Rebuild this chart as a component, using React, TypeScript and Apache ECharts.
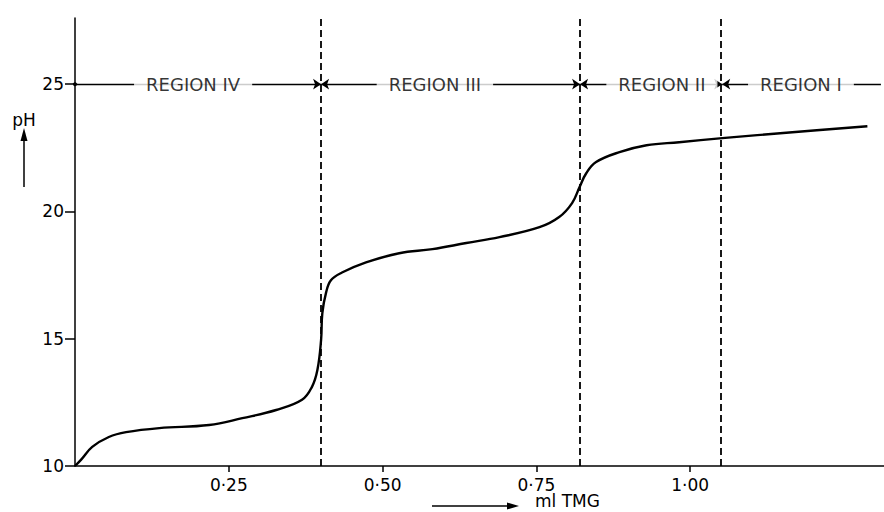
import React, { useEffect, useRef } from "react";
import * as echarts from "echarts";

// Titration curve (ml TMG vs pH)
const mlTMG = [
  0, 0.01, 0.028, 0.055, 0.083, 0.137, 0.218, 0.272, 0.327, 0.369, 0.385, 0.394,
  0.4, 0.402, 0.408, 0.416, 0.434, 0.473, 0.527, 0.581, 0.636, 0.69,
  0.755, 0.787, 0.808, 0.82, 0.831, 0.847, 0.885, 0.929, 0.982, 1.052, 1.166, 1.288,
];
const pH = [
  10.0, 10.25, 10.75, 11.14, 11.33, 11.49, 11.61, 11.88, 12.2, 12.6, 13.1, 13.77,
  14.95, 16.0, 16.8, 17.3, 17.6, 18.0, 18.36, 18.52, 18.76, 18.99,
  19.38, 19.78, 20.33, 20.95, 21.5, 21.94, 22.33, 22.6, 22.72, 22.88, 23.11, 23.35,
];

// Region boundaries (dashed lines)
const boundaries = [0.4, 0.821, 1.052];
const regionNames = ["REGION IV", "REGION III", "REGION II", "REGION I"];
const regionStart = [0, 0.4, 0.821, 1.052];
const regionEnd = [0.4, 0.821, 1.052, 1.31];
const regionLabelX = [0.192, 0.585, 0.954, 1.18];
const regionLevel = 25;

// Tick labels
const xTickValues = [0.25, 0.5, 0.75, 1.0];
const xTickLabels = ["0·25", "0·50", "0·75", "1·00"];
const yTickValues = [10, 15, 20, 25];
const yTickLabels = ["10", "15", "20", "25"];

const FONT = "DejaVu Sans";

export default function App() {
  const ref = useRef<HTMLDivElement>(null);
  useEffect(() => {
    if (!ref.current) return;
    const chart = echarts.init(ref.current, null, { renderer: "svg" });
    const curve = mlTMG.map((x, i) => [x, pH[i]]);
    chart.setOption({
      animation: false,
      backgroundColor: "#fff",
      grid: { left: 75, right: 0, top: 18, bottom: 46, containLabel: false },
      xAxis: {
        type: "value",
        min: 0,
        max: 1.315,
        splitLine: { show: false },
        axisLine: { lineStyle: { color: "#000", width: 1.5 } },
        axisTick: {
          show: true,
          length: 6,
          customValues: xTickValues,
          lineStyle: { color: "#000", width: 1.5 },
        },
        axisLabel: {
          customValues: xTickValues,
          margin: 10,
          color: "#000",
          fontFamily: FONT,
          fontSize: 17,
          formatter: (v: number) => {
            const i = xTickValues.findIndex((t) => Math.abs(t - v) < 1e-6);
            return i >= 0 ? xTickLabels[i] : "";
          },
        },
      },
      yAxis: {
        type: "value",
        min: 10,
        max: 27.6,
        interval: 5,
        splitLine: { show: false },
        axisLine: { show: true, lineStyle: { color: "#000", width: 1.5 } },
        axisTick: {
          show: true,
          length: 10,
          customValues: yTickValues,
          lineStyle: { color: "#000", width: 1.5 },
        },
        axisLabel: {
          customValues: yTickValues,
          margin: 11,
          color: "#000",
          fontFamily: FONT,
          fontSize: 17,
          formatter: (v: number) => {
            const i = yTickValues.findIndex((t) => Math.abs(t - v) < 1e-6);
            return i >= 0 ? yTickLabels[i] : "";
          },
        },
      },
      series: [
        {
          type: "line",
          data: curve,
          smooth: 0.4,
          showSymbol: false,
          lineStyle: { color: "#000", width: 2.4 },
          z: 3,
          markLine: {
            silent: true,
            symbol: "none",
            label: { show: false },
            lineStyle: { color: "#000", width: 1.8, type: [7, 4] },
            data: boundaries.map((v) => ({ xAxis: v })),
          },
        },
        {
          type: "scatter",
          data: regionNames.map((n, i) => ({ name: n, value: [regionLabelX[i], regionLevel] })),
          symbolSize: 0,
          z: 6,
          label: {
            show: true,
            position: "inside",
            formatter: "{b}",
            color: "#000",
            fontFamily: FONT,
            fontSize: 18,
            backgroundColor: "#fff",
            padding: [2, 12],
          },
          markLine: {
            silent: true,
            symbolSize: 8,
            label: { show: false },
            lineStyle: { color: "#000", width: 1.4, type: "solid" },
            data: regionStart.map((s, i) => [
              { coord: [s, regionLevel], symbol: i === 0 ? "circle" : "arrow", symbolSize: i === 0 ? 4 : 8 },
              { coord: [regionEnd[i], regionLevel], symbol: i === 3 ? "none" : "arrow" },
            ]),
          },
        },
      ],
      graphic: [
        {
          type: "text",
          x: 24,
          y: 120,
          style: { text: "pH", fontFamily: FONT, fontSize: 17, fill: "#000", textAlign: "center", textVerticalAlign: "middle" },
        },
        { type: "line", shape: { x1: 24, y1: 187, x2: 24, y2: 138 }, style: { stroke: "#000", lineWidth: 1.5 } },
        { type: "polygon", shape: { points: [[20.5, 141], [24, 128], [27.5, 141]] }, style: { fill: "#000" } },
        { type: "line", shape: { x1: 432, y1: 506, x2: 510, y2: 506 }, style: { stroke: "#000", lineWidth: 1.5 } },
        { type: "polygon", shape: { points: [[507, 502.5], [519, 506], [507, 509.5]] }, style: { fill: "#000" } },
        {
          type: "text",
          x: 535,
          y: 501,
          style: { text: "ml TMG", fontFamily: FONT, fontSize: 17, fill: "#000", textAlign: "left", textVerticalAlign: "middle" },
        },
      ],
    });
    return () => chart.dispose();
  }, []);
  return <div ref={ref} style={{ position: "absolute", left: 0, top: 0, width: 884, height: 512 }} />;
}
